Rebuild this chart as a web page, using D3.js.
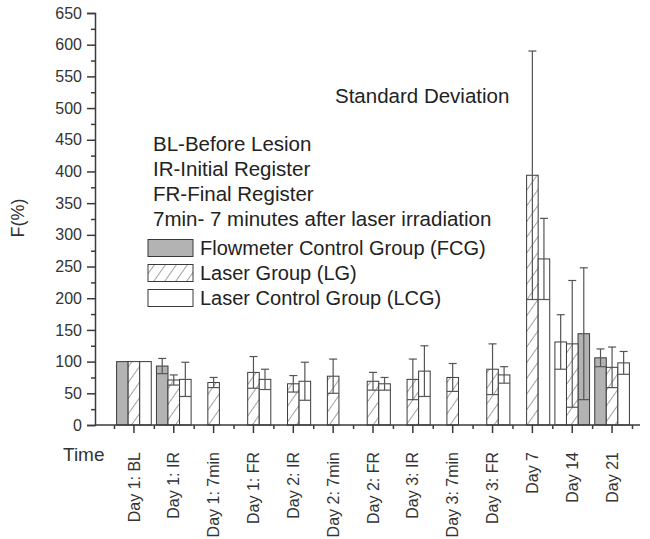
<!DOCTYPE html>
<html>
<head>
<meta charset="utf-8">
<script src="https://cdn.jsdelivr.net/npm/d3@7"></script>
<style>
  body { margin: 0; background: #fff; }
  svg { font-family: "Liberation Sans", Arial, sans-serif; }
</style>
</head>
<body>
<div id="chart"></div>
<script>
// data
var categories = ["Day 1: BL", "Day 1: IR", "Day 1: 7min", "Day 1: FR", "Day 2: IR", "Day 2: 7min",
  "Day 2: FR", "Day 3: IR", "Day 3: 7min", "Day 3: FR", "Day 7", "Day 14", "Day 21"];
var fcgMean = [100, 93, null, null, null, null, null, null, null, null, null, 144, 106];
var fcgSd   = [0, 12, null, null, null, null, null, null, null, null, null, 104, 14];
var lgMean  = [100, 71, 67, 83, 65, 77, 69, 72, 75, 88, 394, 128, 91];
var lgSd    = [0, 8, 8, 25, 13, 27, 14, 32, 22, 40, 196, 100, 32];
var lcgMean = [100, 72, null, 72, 69, null, 65, 85, null, 79, 262, 131, 98];
var lcgSd   = [0, 27, null, 16, 30, null, 10, 40, null, 13, 64, 43, 18];
var yTicks = [0, 50, 100, 150, 200, 250, 300, 350, 400, 450, 500, 550, 600, 650];
var notes = ["BL-Before Lesion", "IR-Initial Register", "FR-Final Register", "7min- 7 minutes after laser irradiation"];

var series = [
  {name: "Flowmeter Control Group (FCG)", mean: fcgMean, sd: fcgSd, fill: "#b3b3b3", slot: -1},
  {name: "Laser Group (LG)", mean: lgMean, sd: lgSd, fill: "url(#hatch)", slot: 0},
  {name: "Laser Control Group (LCG)", mean: lcgMean, sd: lcgSd, fill: "#fff", slot: 1}
];
// in the figure the Day 14 group is drawn with LCG left and FCG right
var flipped = ["Day 14"];

var width = 650, height = 539;
var ink = "#3a3a3a";

var svg = d3.select("#chart")
  .append("svg")
    .attr("width", width)
    .attr("height", height);

var pat = svg.append("defs").append("pattern")
    .attr("id", "hatch")
    .attr("patternUnits", "userSpaceOnUse")
    .attr("width", 9)
    .attr("height", 9)
    .attr("patternTransform", "rotate(35)");
pat.append("rect").attr("width", 9).attr("height", 9).attr("fill", "#fff");
pat.append("line")
    .attr("x1", 0).attr("y1", 0).attr("x2", 0).attr("y2", 9)
    .attr("stroke", "#555").attr("stroke-width", 1.1);

var x = d3.scaleBand()
  .domain(categories)
  .range([114, 632]);
var y = d3.scaleLinear()
  .domain([0, 650])
  .range([425, 13]);

var barW = x.step() * 0.29;

function barX(cat, s) {
  var slot = s.slot;
  if (flipped.indexOf(cat) >= 0) slot = -slot;
  return x(cat) + x.bandwidth() / 2 + slot * barW - barW / 2;
}

// bars
series.forEach(function(s) {
  var rows = categories.map(function(c, i) { return {cat: c, v: s.mean[i], sd: s.sd[i]}; })
    .filter(function(d) { return d.v != null; });

  svg.append("g")
    .selectAll("rect")
    .data(rows)
    .enter()
    .append("rect")
      .attr("x", function(d) { return barX(d.cat, s); })
      .attr("y", function(d) { return y(d.v); })
      .attr("width", barW)
      .attr("height", function(d) { return y(0) - y(d.v); })
      .attr("fill", s.fill)
      .attr("stroke", ink)
      .attr("stroke-width", 1);
  s.rows = rows;
});

// error bars: +sd with cap, -sd marked with a bar-wide line
series.forEach(function(s) {
  var g = svg.append("g")
    .attr("stroke", "#555")
    .attr("stroke-width", 1.2);
  var rows = s.rows.filter(function(d) { return d.sd > 0; });
  rows.forEach(function(d) {
    var cx = barX(d.cat, s) + barW / 2;
    g.append("line")
      .attr("x1", cx).attr("x2", cx)
      .attr("y1", y(d.v + d.sd)).attr("y2", y(d.v - d.sd));
    g.append("line")
      .attr("x1", cx - 4).attr("x2", cx + 4)
      .attr("y1", y(d.v + d.sd)).attr("y2", y(d.v + d.sd));
    g.append("line")
      .attr("x1", cx - barW / 2).attr("x2", cx + barW / 2)
      .attr("y1", y(d.v - d.sd)).attr("y2", y(d.v - d.sd));
  });
});

// Y axis
var yAxis = svg.append("g")
  .attr("transform", "translate(95,0)")
  .call(d3.axisLeft(y).tickValues(yTicks).tickSize(8).tickPadding(5));
svg.append("g")
  .attr("transform", "translate(95,0)")
  .call(d3.axisLeft(y).tickValues(d3.range(25, 650, 50)).tickSize(4).tickFormat(""))
  .select(".domain").remove();

// X axis
var xAxis = svg.append("g")
  .attr("transform", "translate(0," + y(0) + ")")
  .call(d3.axisBottom(x).tickSize(8).tickSizeOuter(0));
xAxis.select(".domain").attr("d", "M95,0H640");
xAxis.selectAll("text")
  .attr("transform", "rotate(-90)")
  .attr("x", -27)
  .attr("y", 0)
  .attr("dy", "0.35em")
  .style("text-anchor", "end");
svg.append("g")
  .attr("transform", "translate(0," + y(0) + ")")
  .call(d3.axisBottom(d3.scaleLinear().domain([0, 1]).range([0, 1])).tickSize(4).tickFormat("")
    .tickValues(categories.map(function(c) { return x(c); }).concat([x.range()[1]])))
  .select(".domain").remove();

svg.selectAll(".tick line").attr("stroke", ink).attr("stroke-width", 1.5);
svg.selectAll(".domain").attr("stroke", ink).attr("stroke-width", 1.5);
svg.selectAll(".tick text").attr("fill", "#333").style("font-size", "16px");

// axis titles
svg.append("text")
  .attr("transform", "translate(24,218)rotate(-90)")
  .attr("text-anchor", "middle")
  .style("font-size", "18px")
  .attr("fill", "#333")
  .text("F(%)");
svg.append("text")
  .attr("x", 63)
  .attr("y", 461)
  .style("font-size", "19px")
  .attr("fill", "#333")
  .text("Time");

// annotations
svg.append("text")
  .attr("x", 335)
  .attr("y", 103)
  .style("font-size", "20.5px")
  .attr("fill", "#222")
  .text("Standard Deviation");

svg.append("g")
  .selectAll("text")
  .data(notes)
  .enter()
  .append("text")
    .attr("x", 153)
    .attr("y", function(d, i) { return 144 + i * 25; })
    .attr("dy", "0.35em")
    .style("font-size", "20.5px")
    .attr("fill", "#222")
    .text(function(d) { return d; });

// legend
var leg = svg.append("g")
  .selectAll("g")
  .data(series)
  .enter()
  .append("g")
    .attr("transform", function(d, i) { return "translate(148," + (248 + i * 25) + ")"; });
leg.append("rect")
  .attr("x", 0)
  .attr("y", -8.5)
  .attr("width", 45)
  .attr("height", 17)
  .attr("fill", function(d) { return d.fill; })
  .attr("stroke", ink)
  .attr("stroke-width", 1);
leg.append("text")
  .attr("x", 52)
  .attr("dy", "0.35em")
  .style("font-size", "20px")
  .attr("fill", "#222")
  .text(function(d) { return d.name; });
</script>
</body>
</html>
